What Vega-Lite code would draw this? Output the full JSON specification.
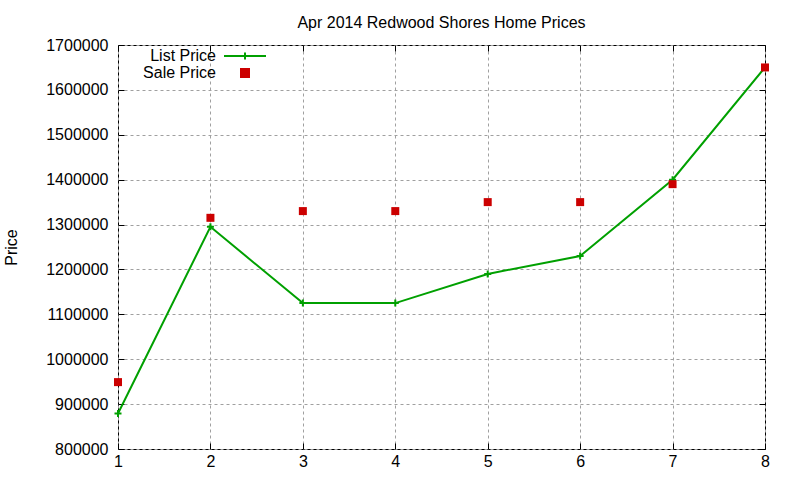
{
  "$schema": "https://vega.github.io/schema/vega-lite/v6.json",
  "autosize": {"type": "none"},
  "padding": {"left": 118, "top": 45, "right": 35, "bottom": 31},
  "width": 647,
  "height": 404,
  "background": "white",
  "title": {"text": "Apr 2014 Redwood Shores Home Prices", "fontSize": 16, "fontWeight": "normal", "font": "Liberation Sans", "color": "black", "offset": 6, "anchor": "middle"},
  "data": {"values": [
    {"x": 1, "price": 879000, "series": "List Price"},
    {"x": 2, "price": 1295000, "series": "List Price"},
    {"x": 3, "price": 1125000, "series": "List Price"},
    {"x": 4, "price": 1125000, "series": "List Price"},
    {"x": 5, "price": 1190000, "series": "List Price"},
    {"x": 6, "price": 1230000, "series": "List Price"},
    {"x": 7, "price": 1400000, "series": "List Price"},
    {"x": 8, "price": 1650000, "series": "List Price"},
    {"x": 1, "price": 949000, "series": "Sale Price"},
    {"x": 2, "price": 1315000, "series": "Sale Price"},
    {"x": 3, "price": 1330000, "series": "Sale Price"},
    {"x": 4, "price": 1330000, "series": "Sale Price"},
    {"x": 5, "price": 1350000, "series": "Sale Price"},
    {"x": 6, "price": 1350000, "series": "Sale Price"},
    {"x": 7, "price": 1390000, "series": "Sale Price"},
    {"x": 8, "price": 1650000, "series": "Sale Price"}
  ]},
  "layer": [
    {
      "transform": [{"filter": "datum.series === 'List Price'"}],
      "mark": {"type": "line", "strokeWidth": 2, "point": {"shape": "M-1,0H1M0,-1V1", "filled": false, "size": 49, "strokeWidth": 2}},
      "encoding": {
        "x": {"field": "x", "type": "quantitative", "scale": {"domain": [1, 8], "nice": false, "zero": false},
              "axis": {"orient": "bottom", "values": [1,2,3,4,5,6,7,8], "format": "d", "title": null, "grid": true, "tickSize": -6, "labelPadding": 10, "labelFlush": false, "labelBound": false}},
        "y": {"field": "price", "type": "quantitative", "scale": {"domain": [800000, 1700000], "nice": false, "zero": false},
              "axis": {"orient": "left", "values": [800000,900000,1000000,1100000,1200000,1300000,1400000,1500000,1600000,1700000], "format": "d", "title": "Price", "grid": true, "tickSize": -6, "labelPadding": 16, "labelFlush": false, "labelBound": false, "titleX": -107, "titleY": 202, "titleAngle": -90, "titleAlign": "center", "titleBaseline": "middle"}},
        "color": {"field": "series", "type": "nominal", "scale": {"domain": ["List Price", "Sale Price"], "range": ["#00a000", "#cc0000"]},
          "legend": {
            "title": null, "orient": "none", "legendX": 0, "legendY": 3, "padding": 0, "rowPadding": 1,
            "labelFontSize": 16, "labelFont": "Liberation Sans", "labelColor": "black",
            "encode": {
              "symbols": {"update": {
                "shape": {"signal": "datum.value === 'List Price' ? 'M-1,0H1M0,-0.17V0.17' : 'square'"},
                "size": {"signal": "datum.value === 'List Price' ? 1764 : 64"},
                "fill": {"signal": "datum.value === 'List Price' ? 'transparent' : '#cc0000'"},
                "stroke": {"signal": "datum.value === 'List Price' ? '#00a000' : 'transparent'"},
                "strokeWidth": {"value": 2},
                "opacity": {"value": 1},
                "x": {"value": 127},
                "y": {"value": 8}
              }},
              "labels": {"update": {
                "x": {"value": 98},
                "y": {"value": 8},
                "align": {"value": "right"},
                "baseline": {"value": "middle"}
              }}
            }
          }}
      }
    },
    {
      "transform": [{"filter": "datum.series === 'Sale Price'"}],
      "mark": {"type": "point", "shape": "square", "filled": true, "size": 64, "opacity": 1},
      "encoding": {
        "x": {"field": "x", "type": "quantitative", "axis": {"orient": "top", "values": [1,2,3,4,5,6,7,8], "labels": false, "title": null, "grid": false, "tickSize": -6, "domain": false}},
        "y": {"field": "price", "type": "quantitative", "axis": {"orient": "right", "values": [800000,900000,1000000,1100000,1200000,1300000,1400000,1500000,1600000,1700000], "labels": false, "title": null, "grid": false, "tickSize": -6, "domain": false}},
        "color": {"field": "series", "type": "nominal"}
      }
    }
  ],
  "resolve": {"axis": {"x": "independent", "y": "independent"}},
  "config": {
    "view": {"stroke": "black", "strokeWidth": 1},
    "axis": {
      "domain": false,
      "tickColor": "black", "tickWidth": 1,
      "gridColor": "#a0a0a0", "gridDash": [3, 3], "gridWidth": 1, "gridOpacity": 1,
      "labelFont": "Liberation Sans", "labelFontSize": 16, "labelColor": "black",
      "titleFont": "Liberation Sans", "titleFontSize": 16, "titleFontWeight": "normal", "titleColor": "black"
    }
  }
}
